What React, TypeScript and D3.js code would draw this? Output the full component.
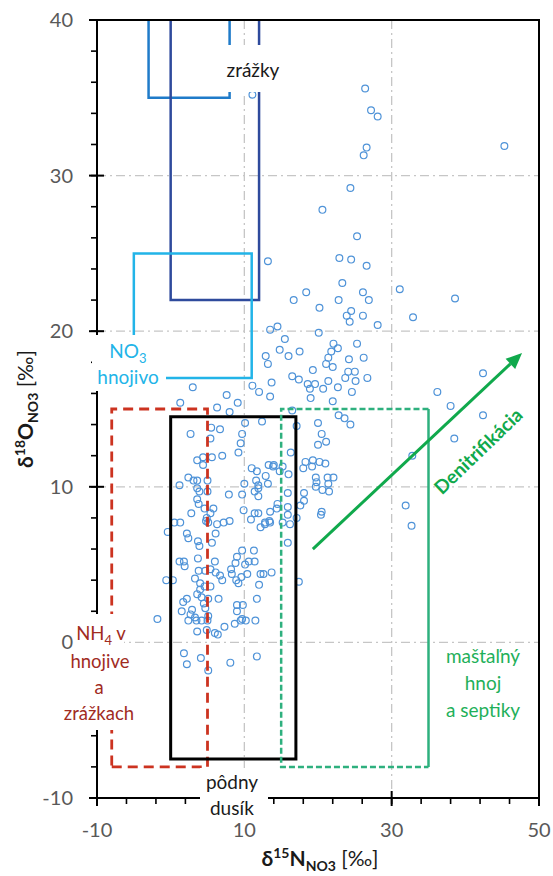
import React from 'react';
import * as d3 from 'd3';

// δ15N-NO3 / δ18O-NO3 sample pairs (‰)
const samples: [number, number][] = [
  [26.4,35.6],[27.2,34.2],[28.1,33.8],[26.6,31.8],[26.2,31.3],[45.3,31.9],[24.4,29.2],[20.6,27.8],[25.3,26.1],[22.9,24.7],[24.5,24.6],[26.6,24.2],[23.3,23.1],[31.1,22.7],[26.1,22.5],[18.4,22.5],[38.6,22.1],[16.7,22.0],[22.8,22.0],[26.9,22.0],[13.2,24.5],[11.1,35.2],
  [20.2,21.5],[24.5,21.3],[23.9,21.0],[26.1,21.0],[24.3,20.6],[32.9,20.9],[28.1,20.4],[14.5,20.3],[13.5,20.1],[20.1,19.9],[15.5,19.5],[22.1,19.2],[25.3,19.2],[22.7,18.9],[14.8,18.8],[17.5,18.7],[21.8,18.7],[16.0,18.4],[12.9,18.4],[13.2,17.9],[21.4,18.3],[24.2,18.2],[26.2,18.3],[21.1,17.9],[22.0,17.7],[19.3,17.5],[24.1,17.4],[25.0,17.4],[16.5,17.1],[17.4,16.9],[23.7,17.0],[25.1,16.8],[26.7,17.0],[18.6,16.6],[19.6,16.6],[21.4,16.8],[13.7,16.7],[18.9,16.3],[20.7,16.3],[22.7,16.4],[24.6,16.1],[13.5,15.8],[19.0,15.7],[22.0,15.5],
  [36.2,16.1],[42.4,17.3],[38.0,15.2],[42.4,14.6],[38.5,13.1],[32.8,12.0],[31.9,8.8],[32.7,7.5],
  [16.5,14.9],[22.8,14.6],[23.6,14.4],[24.4,14.0],[17.1,13.9],[20.0,14.1],[20.5,13.4],[21.1,12.9],[20.0,12.7],[16.3,12.2],[18.3,11.6],[19.3,11.7],[20.2,11.6],[21.0,11.5],[19.2,11.3],[18.0,11.2],[13.9,11.3],[15.2,11.3],[14.8,11.0],[16.0,10.8],[19.7,10.6],[21.3,10.6],[22.1,10.6],[19.8,10.3],[21.4,10.2],[19.7,10.0],[20.6,9.8],[21.5,9.7],[15.9,9.6],[18.1,9.6],[18.1,9.1],[17.6,8.8],[14.5,8.9],[14.4,8.6],[15.9,8.7],[20.5,8.4],[20.4,8.2],[15.9,8.2],[17.1,8.0],[15.2,7.7],[16.2,7.6],[15.9,6.4],[13.7,4.5],[17.4,3.9],
  [11.1,16.5],[7.6,15.9],[12.0,16.1],[9.1,15.4],[8.0,14.8],[10.1,14.1],[12.4,14.2],[9.7,13.4],[9.5,12.8],[9.2,12.2],[7.0,12.0],[11.0,11.2],[13.3,11.4],[14.0,11.4],[11.7,11.0],[12.9,10.7],[11.6,10.4],[13.2,10.2],[11.9,10.1],[10.0,10.2],[11.9,9.9],[11.4,9.7],[7.9,9.5],[9.7,9.5],[11.9,9.4],[9.9,8.5],[13.5,8.4],[11.4,8.3],[11.9,8.3],[10.9,7.9],[8.0,7.8],[12.8,7.7],[13.4,7.8],
  [3.0,16.4],[1.3,15.4],[6.3,15.1],[2.7,13.4],[5.5,13.8],[6.7,13.7],[5.4,13.1],[3.6,11.7],[4.4,11.9],[5.6,11.9],[4.4,11.4],[2.4,10.6],[3.1,10.4],[3.6,10.4],[1.2,10.1],[5.0,10.4],[3.6,9.9],[3.9,9.7],[5.0,9.7],[3.6,9.2],[3.8,8.9],[5.8,8.6],[4.6,8.6],[2.8,8.3],[5.4,8.3],[4.9,8.0],[4.8,7.8],[0.5,7.7],[1.3,7.7],[5.1,7.7],[6.3,7.6],[7.2,7.7],
  [6.1,7.0],[-0.4,7.1],[2.2,7.0],[2.4,6.7],[3.7,6.5],[3.9,6.2],[5.6,6.4],[1.2,5.2],[1.8,5.2],[1.9,4.9],[3.7,5.4],[6.0,5.2],[3.8,4.6],[4.7,4.6],[5.4,4.7],[6.1,4.5],[-0.6,4.0],[0.3,4.0],[3.3,4.1],[4.0,3.8],[4.6,3.6],[5.4,3.6],[7.0,4.0],[6.7,4.3],[4.0,3.4],[3.6,3.1],[4.2,2.9],[5.1,2.8],[2.2,2.8],[1.7,2.6],[4.5,2.5],[1.5,2.0],[2.9,2.1],[4.7,2.2],[5.1,1.7],[2.7,1.8],[3.3,1.6],[3.5,1.4],[4.2,1.4],[-1.8,1.5],[2.4,1.4],[5.0,1.4],[3.6,0.7],[4.9,0.8],[6.0,0.6],[6.4,0.5],[7.3,1.0],[1.8,-0.7],[4.1,-1.0],[2.2,-1.4],[5.1,-1.8],[8.1,-1.3],[11.7,-0.9],[6.5,2.8],
  [12.2,7.4],[12.8,7.6],[13.5,7.7],[11.3,5.9],[9.7,5.9],[9.0,5.5],[8.8,5.1],[10.6,5.2],[11.4,5.2],[8.2,4.7],[10.1,5.0],[8.3,4.4],[9.6,4.2],[10.4,4.4],[8.9,4.0],[9.2,3.8],[12.2,4.4],[12.6,4.4],[12.0,3.7],[11.7,2.8],[9.0,2.4],[9.8,2.4],[9.0,2.0],[9.7,1.5],[9.5,1.4],[10.2,1.4],[8.7,1.2],[11.5,1.4],
];

const xTicks = [-10, 10, 30, 50];
const yTicks = [-10, 0, 10, 20, 30, 40];
const xMinor = d3.range(-10, 50.01, 4);
const yMinor = d3.range(-10, 40.01, 2);
const gridX = [10, 30];
const gridY = [0, 10, 20, 30];

// source field boxes [x0, x1, y0, y1] in ‰
const rainBoxA = [-3, 8, 35, 40];
const rainBoxB = [0, 12, 22, 40];
const no3FertBox = [-5, 11, 17, 25];
const nh4Box = [-8, 5, -8, 15];
const soilBox = [0, 17, -7.5, 14.5];
const manureBox = [15, 35, -8, 15];
const denitArrow = [19.3, 6.0, 47.7, 18.6];

const FONT = 'Lato, "Open Sans", sans-serif';

export default function App() {
  const W = 553, H = 876;
  const x = d3.scaleLinear().domain([-10, 50]).range([97, 539]);
  const y = d3.scaleLinear().domain([-10, 40]).range([798, 20]);

  const openTop = (b: number[]) =>
    `M${x(b[0])},${y(b[3])}L${x(b[0])},${y(b[2])}L${x(b[1])},${y(b[2])}L${x(b[1])},${y(b[3])}`;
  const rect = (b: number[]) =>
    `M${x(b[0])},${y(b[2])}L${x(b[1])},${y(b[2])}L${x(b[1])},${y(b[3])}L${x(b[0])},${y(b[3])}Z`;
  const manureDashed = `M${x(manureBox[1])},${y(manureBox[3])}L${x(manureBox[0])},${y(manureBox[3])}L${x(manureBox[0])},${y(manureBox[2])}L${x(manureBox[1])},${y(manureBox[2])}`;

  const ax0 = x(denitArrow[0]), ay0 = y(denitArrow[1]);
  const ax1 = x(denitArrow[2]), ay1 = y(denitArrow[3]);
  const ang = Math.atan2(ay1 - ay0, ax1 - ax0);
  const hl = 16, hw = 7;
  const bx = ax1 - hl * Math.cos(ang), by = ay1 - hl * Math.sin(ang);
  const head = `M${ax1},${ay1}L${bx + hw * Math.sin(ang)},${by - hw * Math.cos(ang)}L${bx - hw * Math.sin(ang)},${by + hw * Math.cos(ang)}Z`;

  const gridStyle = { stroke: '#c6c6c6', strokeWidth: 1.3, strokeDasharray: '9,4,2,4' };
  const green = '#10a94c';

  return (
    <svg width={W} height={H} style={{ position: 'absolute', left: 0, top: 0, background: '#fff' }} fontFamily={FONT}>
      <defs>
        <clipPath id="plot"><rect x={97} y={20} width={442} height={778} /></clipPath>
      </defs>
      {/* grid */}
      {gridX.map(v => <line key={'gx' + v} x1={x(v)} x2={x(v)} y1={y(40)} y2={y(-10)} {...gridStyle} />)}
      {gridY.map(v => <line key={'gy' + v} x1={x(-10)} x2={x(50)} y1={y(v)} y2={y(v)} {...gridStyle} />)}

      {/* points */}
      <g clipPath="url(#plot)">
        {samples.map((d, i) => (
          <circle key={i} cx={x(d[0])} cy={y(d[1])} r={3.4} fill="none" stroke="#4f93d8" strokeWidth={1.2} />
        ))}
      </g>

      {/* source boxes */}
      <g clipPath="url(#plot)" fill="none">
        <path d={openTop(rainBoxA)} stroke="#1f7bc9" strokeWidth={2.5} />
        <path d={openTop(rainBoxB)} stroke="#2e4a9c" strokeWidth={2.5} />
        <path d={rect(no3FertBox)} stroke="#22b4e8" strokeWidth={2.5} />
        <path d={rect(nh4Box)} stroke="#cc3320" strokeWidth={2.8} strokeDasharray="10,6" />
        <path d={rect(soilBox)} stroke="#000" strokeWidth={3} />
        <path d={manureDashed} stroke="#2eb07e" strokeWidth={2.5} strokeDasharray="6,3" />
        <line x1={x(manureBox[1])} x2={x(manureBox[1])} y1={y(manureBox[2])} y2={y(manureBox[3])} stroke="#2eb07e" strokeWidth={2.5} />
      </g>

      {/* axes & frame */}
      <rect x={97} y={20} width={442} height={778} fill="none" stroke="#000" strokeWidth={2} />
      {yMinor.map(v => <line key={'ym' + v} x1={91} x2={97} y1={y(v)} y2={y(v)} stroke="#000" strokeWidth={1.6} />)}
      {yTicks.map(v => <line key={'yM' + v} x1={89} x2={104} y1={y(v)} y2={y(v)} stroke="#000" strokeWidth={2} />)}
      {xMinor.map(v => <line key={'xm' + v} x1={x(v)} x2={x(v)} y1={798} y2={804} stroke="#000" strokeWidth={1.6} />)}
      {xTicks.map(v => <line key={'xM' + v} x1={x(v)} x2={x(v)} y1={791} y2={806} stroke="#000" strokeWidth={2} />)}
      {yTicks.map(v => (
        <text key={'yl' + v} x={73} y={y(v) + 7} textAnchor="end" fontSize={20} fill="#595959">{v}</text>
      ))}
      {xTicks.map(v => (
        <text key={'xl' + v} x={x(v)} y={837} textAnchor="middle" fontSize={20} fill="#595959">{v}</text>
      ))}

      {/* labels with white backgrounds */}
      <rect x={216} y={45} width={76} height={47} fill="#fff" />
      <text x={253} y={77} textAnchor="middle" fontSize={19} fill="#1a1a1a">zrážky</text>

      <rect x={92} y={335} width={74} height={56} fill="#fff" />
      <text x={128} y={358} textAnchor="middle" fontSize={19} fill="#22b4e8">
        NO<tspan fontSize={13} dy={5}>3</tspan>
      </text>
      <text x={128} y={384} textAnchor="middle" fontSize={19} fill="#22b4e8">hnojivo</text>

      <rect x={78} y={614} width={46} height={116} fill="#fff" />
      <text x={101} y={640} textAnchor="middle" fontSize={18.5} fill="#a12c1f">
        NH<tspan fontSize={13} dy={5}>4</tspan><tspan dy={-5}> v</tspan>
      </text>
      <text x={100} y={668} textAnchor="middle" fontSize={18.5} fill="#a12c1f">hnojive</text>
      <text x={99} y={694} textAnchor="middle" fontSize={18.5} fill="#a12c1f">a</text>
      <text x={99} y={720} textAnchor="middle" fontSize={18.5} fill="#a12c1f">zrážkach</text>

      <rect x={200} y={768} width={68} height={55} fill="#fff" />
      <text x={232} y={789} textAnchor="middle" fontSize={19} fill="#1a1a1a">pôdny</text>
      <text x={232} y={815} textAnchor="middle" fontSize={19} fill="#1a1a1a">dusík</text>

      <text x={483} y={663} textAnchor="middle" fontSize={19} fill="#1fb05a">maštaľný</text>
      <text x={483} y={690} textAnchor="middle" fontSize={19} fill="#1fb05a">hnoj</text>
      <text x={483} y={717} textAnchor="middle" fontSize={19} fill="#1fb05a">a septiky</text>

      {/* denitrification arrow */}
      <line x1={ax0} y1={ay0} x2={bx} y2={by} stroke={green} strokeWidth={3} />
      <path d={head} fill={green} />
      <text transform="translate(483,456) rotate(-44)" textAnchor="middle" fontSize={19} fontWeight="bold" fill={green}>Denitrifikácia</text>

      {/* axis titles */}
      <text transform="translate(33,409) rotate(-90)" textAnchor="middle" fontSize={21} fill="#1a1a1a">
        <tspan fontWeight="bold">δ</tspan>
        <tspan fontWeight="bold" fontSize={14} dy={-8}>18</tspan>
        <tspan fontWeight="bold" dy={8}>O</tspan>
        <tspan fontWeight="bold" fontSize={14} dy={5}>NO3</tspan>
        <tspan dy={-5}> [‰]</tspan>
      </text>
      <text x={320} y={866} textAnchor="middle" fontSize={21} fill="#1a1a1a">
        <tspan fontWeight="bold">δ</tspan>
        <tspan fontWeight="bold" fontSize={14} dy={-8}>15</tspan>
        <tspan fontWeight="bold" dy={8}>N</tspan>
        <tspan fontWeight="bold" fontSize={14} dy={5}>NO3</tspan>
        <tspan dy={-5}> [‰]</tspan>
      </text>
    </svg>
  );
}
